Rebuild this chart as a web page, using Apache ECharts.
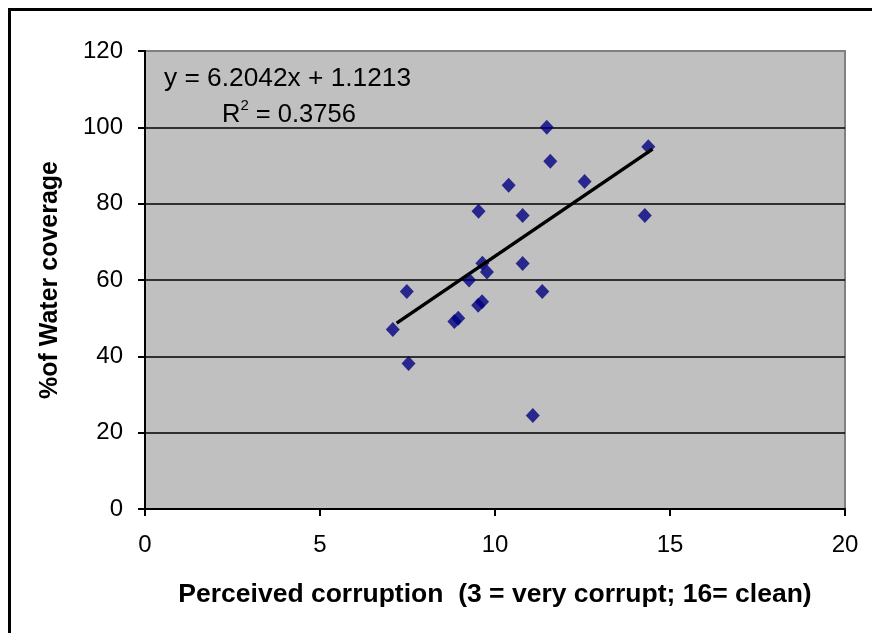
<!DOCTYPE html>
<html>
<head>
<meta charset="utf-8">
<script src="https://cdn.jsdelivr.net/npm/echarts@6/dist/echarts.min.js"></script>
<style>
html,body{margin:0;padding:0;background:#fff;}
#chart{width:872px;height:633px;}
</style>
</head>
<body>
<div id="chart"></div>
<script>
// Data
var corruption = [11.48, 14.38, 11.58, 10.39, 12.56, 9.53, 10.79, 14.28, 9.64, 9.77, 10.79, 9.26, 7.48, 11.35, 9.63, 9.52, 8.95, 8.84, 7.08, 7.53, 11.08];
var coverage   = [100.0, 94.9, 91.1, 84.8, 85.8, 78.0, 76.9, 76.9, 64.4, 62.1, 64.3, 60.0, 57.0, 57.0, 54.3, 53.4, 50.0, 49.1, 47.0, 38.1, 24.5];
var trendX = [7.19, 14.5];
var trendY = [48.7, 94.3];
var xTicks = [0, 5, 10, 15, 20];
var yTicks = [0, 20, 40, 60, 80, 100, 120];
var equationText = 'y = 6.2042x + 1.1213';
var r2Value = '0.3756';
var xTitle = 'Perceived corruption  (3 = very corrupt; 16= clean)';
var yTitle = '%of Water coverage';

var FONT = '"Liberation Sans", Arial, sans-serif';
var scatterData = corruption.map(function (x, i) { return [x, coverage[i]]; });
var trendData = trendX.map(function (x, i) { return [x, trendY[i]]; });
var splitColors = yTicks.map(function (v, i) { return i === yTicks.length - 1 ? '#808080' : '#000000'; });

var chart = echarts.init(document.getElementById('chart'), null, {renderer: 'canvas'});
chart.setOption({
  animation: false,
  backgroundColor: '#ffffff',
  textStyle: {fontFamily: FONT},
  grid: {
    left: 145, right: 27, top: 51, bottom: 124,
    show: true, backgroundColor: '#c0c0c0', borderColor: '#808080', borderWidth: 2
  },
  xAxis: {
    type: 'value', min: xTicks[0], max: xTicks[xTicks.length - 1], interval: 5,
    name: xTitle, nameLocation: 'middle', nameGap: 72,
    nameTextStyle: {fontFamily: FONT, fontSize: 26.5, fontWeight: 'bold', color: '#000'},
    axisLine: {show: true, onZero: false, lineStyle: {color: '#000', width: 2}},
    axisTick: {show: true, inside: false, length: 7, lineStyle: {color: '#000', width: 2}},
    axisLabel: {fontFamily: FONT, fontSize: 24, color: '#000', margin: 24},
    splitLine: {show: false}
  },
  yAxis: {
    type: 'value', min: yTicks[0], max: yTicks[yTicks.length - 1], interval: 20,
    name: yTitle, nameLocation: 'middle', nameGap: 82, nameRotate: 90,
    nameTextStyle: {fontFamily: FONT, fontSize: 25, fontWeight: 'bold', color: '#000'},
    axisLine: {show: true, onZero: false, lineStyle: {color: '#000', width: 2}},
    axisTick: {show: true, inside: false, length: 7, lineStyle: {color: '#000', width: 2}},
    axisLabel: {fontFamily: FONT, fontSize: 24, color: '#000', margin: 22},
    splitLine: {show: true, lineStyle: {color: splitColors, width: 1.5}}
  },
  graphic: [
    {
      type: 'rect', silent: true, z: 100,
      shape: {x: 9.5, y: 9.5, width: 900, height: 700},
      style: {fill: null, stroke: '#000', lineWidth: 3}
    },
    {
      type: 'text', left: 164, top: 66, z: 100,
      style: {text: equationText, font: '26.3px ' + FONT, fill: '#000'}
    },
    {
      type: 'text', left: 222, top: 98, z: 100,
      style: {
        text: '{b|R}{s|2}{b| = ' + r2Value + '}',
        fill: '#000',
        rich: {
          b: {fontFamily: FONT, fontSize: 25.5, color: '#000', verticalAlign: 'bottom', lineHeight: 30},
          s: {fontFamily: FONT, fontSize: 15, color: '#000', verticalAlign: 'top', lineHeight: 30, padding: [0, 0, 12, 0]}
        }
      }
    }
  ],
  series: [
    {
      type: 'scatter', data: scatterData,
      symbol: 'diamond', symbolSize: [14, 15],
      itemStyle: {color: '#000080'}, z: 3
    },
    {
      type: 'line', data: trendData, symbol: 'none',
      lineStyle: {color: '#000', width: 3.5}, z: 4
    }
  ]
});
</script>
</body>
</html>
